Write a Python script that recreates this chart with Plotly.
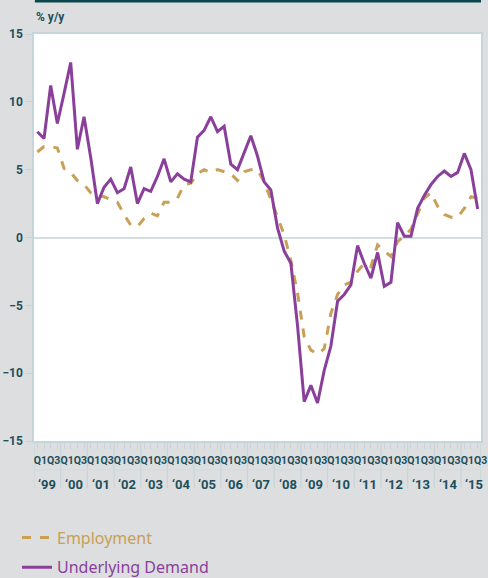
import plotly.graph_objects as go

# 1999 Q1 .. 2015 Q3, quarterly
years = list(range(1999, 2016))
year_labels = ["\u2018" + str(y)[2:] for y in years]
quarters = [f"{y} Q{q}" for y in years for q in range(1, 5)][:67]

underlying_demand = [
    7.8, 7.3, 11.2, 8.4, 10.6, 12.9, 6.5, 8.9, 5.9, 2.5,
    3.7, 4.3, 3.3, 3.6, 5.2, 2.5, 3.6, 3.4, 4.5, 5.8,
    4.1, 4.7, 4.3, 4.1, 7.4, 7.9, 8.9, 7.8, 8.2, 5.4,
    5.0, 6.2, 7.5, 6.0, 4.1, 3.5, 0.7, -1.0, -1.9, -6.5,
    -12.1, -10.9, -12.2, -9.8, -8.0, -4.7, -4.2, -3.5, -0.6, -1.9,
    -3.0, -1.1, -3.6, -3.3, 1.1, 0.1, 0.1, 2.15, 3.1, 3.9,
    4.5, 4.9, 4.5, 4.8, 6.2, 5.0, 2.1,
]
employment = [
    6.3, 6.7, 6.7, 6.6, 5.1, 4.8, 4.2, 3.9, 3.3, 3.1,
    3.0, 2.8, 2.6, 1.7, 0.9, 0.8, 1.4, 1.8, 1.6, 2.6,
    2.6, 2.9, 3.9, 4.0, 4.7, 5.0, 4.8, 5.0, 4.85, 4.7,
    4.2, 4.85, 5.0, 5.0, 4.1, 2.8, 1.5, 0.2, -1.7, -4.1,
    -7.3, -8.3, -8.6, -8.2, -5.6, -4.2, -3.5, -3.3, -2.5, -1.9,
    -2.15, -0.55, -1.0, -1.4, -0.3, 0.1, 0.6, 1.7, 2.9, 3.3,
    2.3, 1.7, 1.5, 1.5, 2.15, 3.0, 2.9,
]
y_ticks = [-15, -10, -5, 0, 5, 10, 15]

TEAL = "#1d4f5b"
GOLD = "#c9a056"
PURPLE = "#8a3f9b"
LIGHT = "#c6d5d9"
BG = "#dcdee0"
AXFONT = "Roboto, Liberation Sans, sans-serif"

idx = list(range(len(quarters)))

fig = go.Figure()
fig.add_trace(go.Scatter(
    x=idx, y=employment, mode="lines",
    name=f"<span style='color:{GOLD}'>Employment</span>",
    line=dict(color=GOLD, width=3, dash="dash"),
    legendgroup="a", text=quarters,
))
fig.add_trace(go.Scatter(
    x=idx, y=underlying_demand, mode="lines",
    name=f"<span style='color:{PURPLE}'>Underlying Demand</span>",
    line=dict(color=PURPLE, width=3),
    legendgroup="b", text=quarters,
))

# Quarter tick labels (Q1 and Q3 of each year)
tickvals, ticktext = [], []
for i, q in enumerate(quarters):
    if q.endswith("Q1") or q.endswith("Q3"):
        tickvals.append(i)
        ticktext.append(q[-2:])

n = len(quarters)
shapes = []
# year dividers below the axis
for k in range(len(years)):
    shapes.append(dict(type="line", xref="x", yref="paper", x0=4 * k - 0.5, x1=4 * k - 0.5,
                       y0=0, y1=-0.1155, line=dict(color=LIGHT, width=1.2), layer="below"))
shapes.append(dict(type="line", xref="x", yref="paper", x0=n - 0.5, x1=n - 0.5,
                   y0=0, y1=-0.1155, line=dict(color=LIGHT, width=1.2), layer="below"))
# faint separator between quarter row and year row
shapes.append(dict(type="line", xref="x", yref="paper", x0=-0.5, x1=n - 0.5,
                   y0=-0.0713, y1=-0.0713, line=dict(color="#d3dadd", width=1), layer="below"))
# dark header bar
shapes.append(dict(type="rect", xref="paper", yref="paper", x0=0.002, x1=1.0, y0=1.0775, y1=1.09,
                   fillcolor="#0b474d", line=dict(width=0)))

annotations = []
for k, lab in enumerate(year_labels):
    annotations.append(dict(x=4 * k + 1.5, y=-0.106, xref="x", yref="paper", text=lab,
                            showarrow=False, xanchor="center", yanchor="middle",
                            font=dict(family=AXFONT, size=13, color=TEAL, weight="bold")))
annotations.append(dict(x=0, y=1.0418, xref="paper", yref="paper", text="% y/y",
                        showarrow=False, xanchor="left", yanchor="middle",
                        font=dict(family=AXFONT, size=12, color=TEAL, weight="bold")))

fig.update_layout(
    width=488, height=578,
    margin=dict(l=34, r=7, t=34, b=137, autoexpand=False),
    paper_bgcolor=BG, plot_bgcolor="white",
    shapes=shapes, annotations=annotations,
    showlegend=True,
    legend=dict(x=-0.038, y=-0.1953, xanchor="left", yanchor="top", orientation="v",
                bgcolor="rgba(0,0,0,0)", tracegroupgap=6,
                font=dict(family="Noto Sans, Open Sans, sans-serif", size=16)),
    xaxis=dict(range=[-0.5, n - 0.5], tickvals=tickvals, ticktext=ticktext,
               tickangle=0, automargin=False,
               ticks="outside", ticklen=6, tickcolor=LIGHT, tickwidth=1,
               minor=dict(tick0=0, dtick=1, ticks="outside", ticklen=6, tickcolor=LIGHT, tickwidth=1),
               ticklabelshift=3, ticklabelstandoff=3,
               tickfont=dict(family=AXFONT, size=10.5, color=TEAL, weight="bold"),
               showgrid=False, zeroline=False, showline=True, mirror=True,
               linecolor=LIGHT, linewidth=1.5),
    yaxis=dict(range=[-15, 15], tickvals=y_ticks, ticks="outside", ticklen=7,
               automargin=False,
               tickcolor=LIGHT, tickwidth=1,
               tickfont=dict(family=AXFONT, size=12, color=TEAL, weight="bold"),
               showgrid=False, zeroline=True, zerolinecolor="#d3dee1", zerolinewidth=1.5,
               showline=True, mirror=True, linecolor=LIGHT, linewidth=1.5),
)

fig.write_html("out.html", config={"displayModeBar": False},
               post_script="document.body.style.margin='0';document.body.style.overflow='hidden';")
